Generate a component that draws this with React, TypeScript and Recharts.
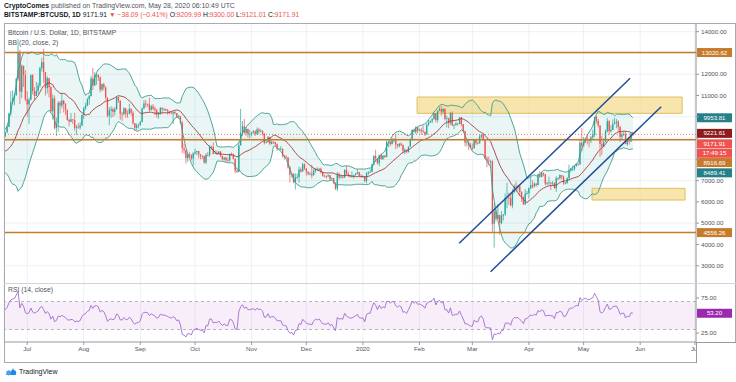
import React from "react";
import {
  Area,
  Bar,
  CartesianGrid,
  ComposedChart,
  Line,
  ReferenceArea,
  ReferenceLine,
  XAxis,
  YAxis,
} from "recharts";

const FONT = "'Liberation Sans', Arial, sans-serif";

// day 0 = 2019-07-01, first close is 2019-05-29 (warm-up for BB / RSI)
const firstDay = -33;
const firstVisibleDay = -13;

// daily closes, BITSTAMP:BTCUSD
const closes = [
  // May 2019
  8660, 8270, 8555,
  // Jun
  8560, 8740, 8210, 7705, 7825, 7990, 8030, 7930, 7630, 8030, 7925, 8180, 8230, 8690, 8830,
  8970, 9330, 9080, 9275, 9530, 10150, 10700, 10855, 11010, 11790, 13020, 11180, 12400, 11960, 10820,
  // Jul
  10580, 10800, 11960, 11215, 10980, 11210, 11470, 12300, 12570, 12100, 11350, 11815, 11390, 10260, 10860,
  9470, 9690, 10660, 10530, 10760, 10600, 10325, 9850, 9770, 9880, 9850, 9480, 9530, 9500, 9590, 10090,
  // Aug
  10400, 10520, 10820, 10970, 11800, 11470, 11940, 11970, 11850, 11280, 11530, 11380, 10900, 10050, 10300,
  10360, 10230, 10350, 10920, 10760, 10140, 10130, 10400, 10140, 10130, 10370, 10190, 9700, 9480, 9590, 9630,
  // Sep
  9760, 10390, 10620, 10590, 10580, 10320, 10490, 10380, 10310, 10100, 10160, 10420, 10360, 10360, 10310,
  10260, 10190, 10160, 10230, 10170, 9990, 10030, 9700, 8530, 8430, 8060, 8240, 8210, 8040, 8290,
  // Oct
  8340, 8390, 8240, 8160, 8150, 7850, 8210, 8200, 8590, 8590, 8260, 8300, 8280, 8360, 8160,
  8000, 8080, 7960, 7950, 8240, 8220, 8030, 7470, 7410, 8660, 9245, 9550, 9250, 9430, 9200, 9200,
  // Nov
  9260, 9310, 9200, 9400, 9310, 9340, 9210, 8770, 8810, 9040, 8730, 8820, 8810, 8710, 8490,
  8500, 8500, 8170, 8120, 8080, 7620, 7280, 7320, 6910, 7150, 7170, 7520, 7430, 7760, 7570,
  // Dec
  7420, 7320, 7320, 7250, 7450, 7550, 7510, 7560, 7400, 7230, 7200, 7190, 7250, 7070, 7110,
  6880, 6620, 7280, 7150, 7190, 7140, 7510, 7320, 7250, 7190, 7200, 7250, 7320, 7390, 7220, 7190,
  // Jan 2020
  7200, 6985, 7345, 7410, 7410, 7770, 8160, 8040, 7820, 8200, 8020, 8180, 8110, 8810, 8820,
  8720, 8900, 8910, 8700, 8630, 8740, 8680, 8400, 8440, 8340, 8600, 8910, 9390, 9290, 9500, 9350,
  // Feb
  9390, 9340, 9290, 9180, 9620, 9730, 9800, 9900, 10170, 9850, 10270, 10360, 10240, 10370, 9900,
  9930, 9700, 10180, 9600, 9610, 9690, 9670, 9970, 9650, 9320, 8790, 8790, 8670, 8530,
  // Mar
  8520, 8910, 8760, 8750, 9070, 9160, 8900, 8040, 7930, 7910, 7910, 4970, 5560, 5200, 5390,
  5010, 5360, 5410, 6190, 6200, 6190, 5830, 6470, 6730, 6680, 6730, 6470, 6240, 5880, 6390, 6410,
  // Apr
  6640, 6790, 6730, 6860, 6790, 7270, 7180, 7360, 7300, 6860, 6880, 6910, 6860, 6870, 6640,
  7120, 7100, 7260, 7190, 6880, 6880, 7120, 7480, 7550, 7550, 7700, 7790, 7760, 8780, 8620,
  // May
  8830, 8970, 8900, 8880, 9030, 9150, 9990, 9810, 9590, 8730, 8600, 8820, 9320, 9790, 9320,
  9380, 9670, 9730, 9780, 9520, 9060, 9170, 9180, 8720, 8900, 8840, 9209.99, 9171.91,
];

const highs = [
  8760, 9080, 8580,
  8630, 8810, 8760, 8220, 7940, 7990, 8110, 8090, 7950, 8100, 8040, 8230, 8310, 8700, 8860,
  9330, 9440, 9340, 9300, 9600, 10200, 11200, 11250, 11100, 11820, 13650, 13150, 12460, 12400, 12190,
  11200, 10900, 11990, 12000, 11400, 11650, 11600, 12350, 12780, 13200, 12100, 11900, 11820, 11450, 11050,
  11000, 9960, 10730, 10750, 11080, 10800, 10650, 10340, 9930, 10180, 9880, 10190, 9620, 9700, 9750, 10100,
  10470, 10650, 10900, 11030, 11920, 12300, 12100, 12040, 12000, 11900, 11560, 11600, 11440, 10900, 10450,
  10500, 10440, 10470, 10940, 10950, 10770, 10230, 10450, 10420, 10300, 10620, 10400, 10270, 9700, 9690, 9680,
  9800, 10440, 10780, 10800, 10630, 10900, 10560, 10600, 10480, 10380, 10220, 10450, 10440, 10420, 10380,
  10370, 10270, 10260, 10250, 10260, 10180, 10090, 10050, 9800, 8740, 8450, 8270, 8330, 8230, 8330,
  8500, 8400, 8400, 8240, 8190, 8180, 8300, 8340, 8680, 8640, 8800, 8420, 8420, 8400, 8400,
  8170, 8110, 8120, 8100, 8280, 8320, 8290, 8040, 7500, 8800, 10370, 9800, 9900, 9520, 9440, 9390,
  9300, 9380, 9370, 9500, 9480, 9420, 9360, 9230, 8880, 9100, 9070, 8880, 8850, 8820, 8750,
  8540, 8620, 8500, 8200, 8200, 8110, 7700, 7340, 7330, 7340, 7320, 7650, 7620, 7850, 7820,
  7570, 7420, 7410, 7750, 7550, 7560, 7630, 7580, 7610, 7420, 7270, 7250, 7300, 7270, 7140,
  7130, 6920, 7400, 7380, 7210, 7200, 7520, 7690, 7430, 7270, 7430, 7280, 7360, 7520, 7420, 7310,
  7250, 7210, 7400, 7420, 7530, 7800, 8200, 8450, 8050, 8210, 8290, 8190, 8190, 8890, 8880,
  8850, 9000, 8990, 9180, 8730, 8760, 8790, 8690, 8520, 8450, 8610, 8980, 9400, 9440, 9550, 9530,
  9440, 9480, 9600, 9310, 9700, 9850, 9830, 9940, 10180, 10160, 10300, 10480, 10530, 10400, 10390,
  10050, 9950, 10230, 10250, 9650, 9770, 9700, 9980, 10000, 9660, 9350, 8960, 8900, 8770,
  8740, 8940, 8930, 8840, 9140, 9180, 9200, 8900, 8150, 8130, 7980, 7960, 5950, 5650, 5900,
  5380, 5560, 5420, 6400, 6900, 6440, 6400, 6600, 6830, 6950, 6800, 6830, 6500, 6250, 6600, 6520,
  6680, 7200, 7000, 6920, 6880, 7330, 7450, 7410, 7380, 7310, 6950, 7190, 6930, 6980, 6930,
  7200, 7150, 7300, 7260, 7230, 6950, 7150, 7750, 7600, 7700, 7720, 7800, 7800, 8960, 9470,
  9050, 9010, 9200, 8950, 9100, 9390, 10000, 10050, 9900, 9600, 9100, 8980, 9400, 9940, 9850,
  9600, 9880, 9950, 9900, 9840, 9580, 9260, 9320, 9300, 8980, 9010, 9230, 9300,
];

const lows = [
  8450, 8100, 8050,
  8470, 8540, 8130, 7520, 7600, 7550, 7780, 7820, 7520, 7540, 7750, 7860, 8050, 8190, 8620,
  8800, 8960, 8990, 9050, 9230, 9520, 10050, 10600, 10550, 11000, 11700, 10600, 10880, 11400, 10740,
  10000, 9650, 10780, 11050, 10800, 10980, 11080, 11370, 12130, 11600, 11000, 11100, 10900, 10200, 9870,
  9400, 9100, 9300, 10150, 10400, 10200, 10080, 9820, 9550, 9750, 9650, 9350, 9150, 9430, 9400, 9570,
  9890, 10330, 10500, 10560, 10960, 11250, 11450, 11500, 11680, 11150, 11200, 11250, 10800, 9980, 9600,
  9950, 9990, 10060, 10330, 10650, 9860, 9800, 10070, 9960, 9950, 10130, 10050, 9620, 9330, 9360, 9450,
  9570, 9740, 10360, 10440, 10450, 10230, 10300, 10300, 10080, 9950, 9910, 10090, 10180, 10270, 10260,
  10100, 10120, 10110, 9650, 10100, 9960, 9900, 9650, 8300, 8260, 7800, 7880, 8080, 7950, 7710,
  8220, 8200, 8060, 8000, 8020, 7800, 7780, 8140, 8120, 8460, 8230, 8250, 8200, 8240, 8100,
  7940, 7940, 7860, 7900, 7880, 8170, 8000, 7350, 7360, 7400, 8650, 9100, 9200, 9120, 9030, 8990,
  9080, 9210, 9100, 9140, 9180, 9280, 9120, 8700, 8750, 8790, 8660, 8700, 8730, 8620, 8400,
  8470, 8420, 8080, 8000, 8050, 7560, 6900, 7140, 6880, 6580, 7070, 6900, 7380, 7410, 7500,
  7240, 7250, 7250, 7100, 7240, 7370, 7490, 7450, 7330, 7180, 7150, 7100, 7190, 7040, 7030,
  6850, 6560, 6500, 7050, 7100, 7100, 7130, 7270, 7160, 7130, 7150, 7090, 7240, 7300, 7200, 7150,
  7150, 6920, 6870, 7270, 7360, 7400, 7720, 7880, 7760, 7680, 7980, 7970, 8060, 8100, 8570,
  8610, 8700, 8790, 8480, 8530, 8560, 8620, 8300, 8240, 8280, 8320, 8580, 8880, 9250, 9200, 9230,
  9310, 9150, 9240, 9100, 9160, 9560, 9710, 9700, 9870, 9730, 9730, 10270, 10050, 10150, 9830,
  9500, 9460, 9620, 9560, 9420, 9580, 9580, 9650, 9550, 9290, 8610, 8600, 8430, 8520,
  8430, 8500, 8670, 8700, 8750, 8990, 8880, 8030, 7630, 7730, 7600, 4600, 3850, 5080, 5170,
  4450, 4950, 5120, 5350, 5700, 5860, 5790, 5700, 6390, 6480, 6530, 6290, 6000, 5860, 5870, 6340,
  6160, 6600, 6630, 6680, 6700, 6780, 7130, 7150, 7200, 6770, 6790, 6810, 6550, 6790, 6620,
  6470, 7020, 7050, 7060, 6800, 6820, 6860, 7040, 7390, 7450, 7470, 7650, 7700, 7750, 8400,
  8610, 8780, 8700, 8560, 8760, 8930, 9050, 9700, 9500, 8110, 8200, 8560, 8800, 9260, 9150,
  9260, 9390, 9640, 9460, 9300, 8820, 8950, 9100, 8700, 8630, 8700, 8820, 9121.01,
];

const monthTicks = [0, 31, 62, 92, 123, 153, 184, 215, 244, 275, 305, 336, 366];
const monthLabels = ["Jul", "Aug", "Sep", "Oct", "Nov", "Dec", "2020", "Feb", "Mar", "Apr", "May", "Jun", "Jul"];
const priceTicks = [3000, 4000, 5000, 6000, 7000, 8000, 9000, 10000, 11000, 12000, 13000, 14000];
// tick labels covered by the price tags on the right
const coveredPriceTicks = [8000, 9000, 10000, 13000];
const rsiTicks = [25, 75];

// drawn levels and shapes (day, price)
const levels = [13020.62, 8916.69, 4556.26];
const lastPrice = 9171.91;
const upperZone = [213.7, 359, 10164, 10930];
const lowerZone = [309.6, 360.6, 6087, 6638];
const channelTop = [236.8, 4052, 330.5, 11809];
const channelBottom = [254, 2717, 347.5, 10474];
const bbLast = { upper: 9953.81, basis: 9221.61, lower: 8489.41 };
const rsiLast = 53.2;

function buildRows() {
  const n = closes.length;
  const rsi: (number | null)[] = closes.map(() => null);
  let g = 0;
  let l = 0;
  for (let i = 1; i <= 14; i++) {
    const d = closes[i] - closes[i - 1];
    g += Math.max(d, 0);
    l += Math.max(-d, 0);
  }
  g /= 14;
  l /= 14;
  rsi[14] = 100 - 100 / (1 + g / l);
  for (let i = 15; i < n; i++) {
    const d = closes[i] - closes[i - 1];
    g = (g * 13 + Math.max(d, 0)) / 14;
    l = (l * 13 + Math.max(-d, 0)) / 14;
    rsi[i] = l === 0 ? 100 : 100 - 100 / (1 + g / l);
  }

  const rows: any[] = [];
  for (let i = 0; i < n; i++) {
    const day = firstDay + i;
    if (day < firstVisibleDay) continue;
    const win = closes.slice(i - 19, i + 1);
    const mean = win.reduce((a, b) => a + b, 0) / 20;
    const sd = Math.sqrt(win.reduce((a, b) => a + (b - mean) * (b - mean), 0) / 20);
    const open = closes[i - 1];
    rows.push({
      day,
      open,
      close: closes[i],
      high: highs[i],
      low: lows[i],
      hl: [lows[i], highs[i]],
      basis: mean,
      upper: mean + 2 * sd,
      lower: mean - 2 * sd,
      band: [mean - 2 * sd, mean + 2 * sd],
      rsi: rsi[i],
    });
  }
  return rows;
}

const rows = buildRows();

function Candle(props: any) {
  const { x, width, payload } = props;
  let { y, height } = props;
  if (!payload || y == null || height == null) return null;
  if (height < 0) {
    y += height;
    height = -height;
  }
  const { open, close, high, low } = payload;
  const color = close >= open ? "#26a69a" : "#ef5350";
  const k = height / (high - low || 1);
  const cx = x + width / 2;
  const top = y + (high - Math.max(open, close)) * k;
  const bot = y + (high - Math.min(open, close)) * k;
  return (
    <g>
      <line x1={cx} x2={cx} y1={y} y2={y + height} stroke={color} strokeWidth={0.7} />
      <rect x={cx - 0.65} y={top} width={1.3} height={Math.max(bot - top, 0.7)} fill={color} />
    </g>
  );
}

function tag(text: string, bg: string, dy = 0) {
  return (props: any) => {
    const vb = props.viewBox;
    if (!vb) return null;
    const x = vb.x + vb.width + 1;
    const cy = vb.y + dy;
    return (
      <g>
        <rect x={x} y={cy - 4.5} width={35} height={9} fill={bg} />
        <text x={x + 17.5} y={cy} dy="0.35em" textAnchor="middle" fontSize={6.1} fill="#ffffff" fontFamily={FONT}>
          {text}
        </text>
      </g>
    );
  };
}

const axisTick = { fontSize: 6.2, fill: "#50535e", fontFamily: FONT };
const ORANGE = "#c67b2b";

function Logo() {
  return (
    <div style={{ position: "absolute", left: 5, top: 367, display: "flex", alignItems: "center", fontFamily: FONT, fontSize: 7, color: "#131722" }}>
      <svg width={12} height={9} viewBox="0 0 12 9">
        <path d="M1 8 L4 3 L6 5 L8 1 L11 8 Z" fill="#2196f3" />
        <circle cx={3.5} cy={6} r={2.4} fill="#42a5f5" />
        <circle cx={8.5} cy={5.5} r={2.6} fill="#1e88e5" />
      </svg>
      <span style={{ marginLeft: 2 }}>TradingView</span>
    </div>
  );
}

export default function App() {
  const red = { color: "#ef5350" };
  return (
    <div style={{ position: "absolute", left: 0, top: 0, width: 736, height: 382, background: "#ffffff", overflow: "hidden" }}>
      <div style={{ position: "absolute", left: 4, top: 2, fontFamily: FONT, fontSize: 6.9, color: "#50535e", whiteSpace: "nowrap" }}>
        <b style={{ color: "#131722" }}>CryptoComes</b> published on TradingView.com, May 28, 2020 06:10:49 UTC
      </div>
      <div style={{ position: "absolute", left: 4, top: 11, fontFamily: FONT, fontSize: 6.75, color: "#131722", whiteSpace: "nowrap" }}>
        <b>BITSTAMP:BTCUSD, 1D</b> 9171.91 <span style={red}>▼ −38.09 (−0.41%)</span> O:<span style={red}>9209.99</span> H:
        <span style={red}>9300.00</span> L:<span style={red}>9121.01</span> C:<span style={red}>9171.91</span>
      </div>

      <div style={{ position: "absolute", left: 0, top: 23 }}>
        <ComposedChart width={736} height={261} data={rows} margin={{ top: 0, right: 0, bottom: 0, left: 4 }}>
          <CartesianGrid stroke="#eef0f4" />
          <XAxis type="number" dataKey="day" domain={[-12.72, 366.6]} ticks={monthTicks} allowDataOverflow hide />
          <YAxis
            orientation="right"
            width={40}
            domain={[2140, 14409]}
            ticks={priceTicks}
            allowDataOverflow
            tickFormatter={(v: number) => (coveredPriceTicks.includes(v) ? "" : v.toFixed(2))}
            tick={axisTick}
            tickSize={3}
            tickMargin={2}
            axisLine={{ stroke: "#9598a1" }}
            tickLine={{ stroke: "#9598a1" }}
          />
          <Area dataKey="band" fill="#26a69a" fillOpacity={0.1} stroke="none" isAnimationActive={false} />
          <Line dataKey="upper" stroke="#3d9b8e" strokeWidth={0.9} dot={false} isAnimationActive={false} />
          <Line dataKey="lower" stroke="#3d9b8e" strokeWidth={0.9} dot={false} isAnimationActive={false} />
          <Line dataKey="basis" stroke="#a33b3b" strokeWidth={0.9} dot={false} isAnimationActive={false} />
          <ReferenceArea x1={upperZone[0]} x2={upperZone[1]} y1={upperZone[2]} y2={upperZone[3]} fill="#f3d06b" fillOpacity={0.55} stroke="#ddbf5c" />
          <ReferenceArea x1={lowerZone[0]} x2={lowerZone[1]} y1={lowerZone[2]} y2={lowerZone[3]} fill="#f3d06b" fillOpacity={0.55} stroke="#ddbf5c" />
          <ReferenceLine y={lastPrice} stroke="#ef5350" strokeDasharray="1 2" strokeWidth={0.8} />
          <Bar dataKey="hl" barSize={1.8} shape={(p: any) => <Candle {...p} />} isAnimationActive={false} />
          {levels.map((v) => (
            <ReferenceLine key={v} y={v} stroke={ORANGE} strokeWidth={1.5} />
          ))}
          <ReferenceLine
            segment={[{ x: channelTop[0], y: channelTop[1] }, { x: channelTop[2], y: channelTop[3] }]}
            stroke="#1f4f99"
            strokeWidth={1.5}
          />
          <ReferenceLine
            segment={[{ x: channelBottom[0], y: channelBottom[1] }, { x: channelBottom[2], y: channelBottom[3] }]}
            stroke="#1f4f99"
            strokeWidth={1.5}
          />
          <ReferenceLine y={levels[0]} stroke="none" label={tag(levels[0].toFixed(2), ORANGE)} />
          <ReferenceLine y={bbLast.upper} stroke="none" label={tag(bbLast.upper.toFixed(2), "#26808a")} />
          <ReferenceLine y={bbLast.basis} stroke="none" label={tag(bbLast.basis.toFixed(2), "#8b1c1c")} />
          <ReferenceLine y={lastPrice} stroke="none" label={tag(lastPrice.toFixed(2), "#ef5350", 9.4)} />
          <ReferenceLine y={lastPrice} stroke="none" label={tag("17:49:15", "#ef5350", 18.9)} />
          <ReferenceLine y={levels[1]} stroke="none" label={tag(levels[1].toFixed(2), ORANGE, 22.7)} />
          <ReferenceLine y={bbLast.lower} stroke="none" label={tag(bbLast.lower.toFixed(2), "#26808a", 23.9)} />
          <ReferenceLine y={levels[2]} stroke="none" label={tag(levels[2].toFixed(2), ORANGE)} />
        </ComposedChart>
      </div>

      <div style={{ position: "absolute", left: 0, top: 284 }}>
        <ComposedChart width={736} height={78} data={rows} margin={{ top: 0, right: 0, bottom: 0, left: 4 }}>
          <CartesianGrid horizontal={false} stroke="#eef0f4" />
          <XAxis
            type="number"
            dataKey="day"
            domain={[-12.72, 366.6]}
            ticks={monthTicks}
            interval={0}
            allowDataOverflow
            height={20}
            tickFormatter={(v: number) => monthLabels[monthTicks.indexOf(v)]}
            tick={axisTick}
            tickSize={3}
            tickMargin={2}
            axisLine={{ stroke: "#9598a1" }}
            tickLine={{ stroke: "#9598a1" }}
          />
          <YAxis
            orientation="right"
            width={40}
            domain={[12.14, 95]}
            ticks={rsiTicks}
            allowDataOverflow
            tickFormatter={(v: number) => v.toFixed(2)}
            tick={axisTick}
            tickSize={3}
            tickMargin={2}
            axisLine={{ stroke: "#9598a1" }}
            tickLine={{ stroke: "#9598a1" }}
          />
          <ReferenceArea y1={30} y2={70} fill="#9c27b0" fillOpacity={0.08} stroke="none" />
          <ReferenceLine y={70} stroke="#b4b4bc" strokeDasharray="3 3" />
          <ReferenceLine y={30} stroke="#b4b4bc" strokeDasharray="3 3" />
          <Line dataKey="rsi" stroke="#a06bd0" strokeWidth={0.9} dot={false} isAnimationActive={false} />
          <ReferenceLine y={rsiLast} stroke="none" label={tag(rsiLast.toFixed(2), "#9c27b0")} />
        </ComposedChart>
      </div>

      {/* frame */}
      <div style={{ position: "absolute", left: 4, top: 23, width: 732, height: 340, boxSizing: "border-box", border: "1px solid #a8abb4" }} />
      <div style={{ position: "absolute", left: 4, top: 283, width: 732, height: 1, background: "#d1d4dc" }} />
      <div style={{ position: "absolute", left: 696, top: 342, width: 39, height: 20, background: "#ffffff", borderLeft: "1px solid #9598a1", borderTop: "1px solid #9598a1" }} />

      <div style={{ position: "absolute", left: 8, top: 29, fontFamily: FONT, fontSize: 6.8, color: "#50535e", whiteSpace: "nowrap" }}>
        Bitcoin / U.S. Dollar, 1D, BITSTAMP
      </div>
      <div style={{ position: "absolute", left: 8, top: 39, fontFamily: FONT, fontSize: 6.8, color: "#50535e", whiteSpace: "nowrap" }}>
        BB (20, close, 2)
      </div>
      <div style={{ position: "absolute", left: 8, top: 286, fontFamily: FONT, fontSize: 6.8, color: "#50535e", whiteSpace: "nowrap" }}>
        RSI (14, close)
      </div>
      <Logo />
    </div>
  );
}
